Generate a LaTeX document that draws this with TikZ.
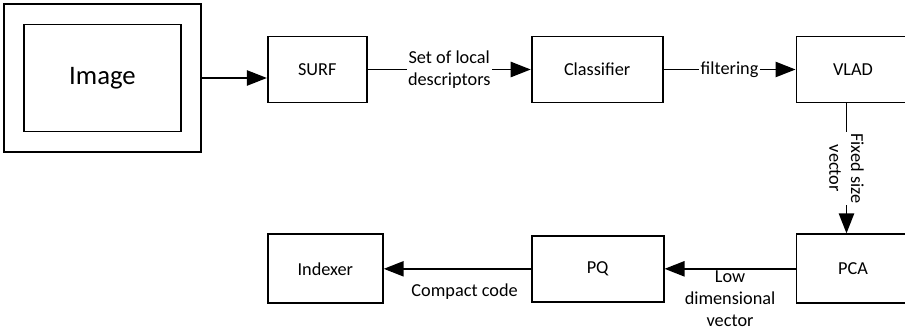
\documentclass[tikz,border=0pt]{standalone}
\usepackage{fontspec}
\setmainfont{Carlito}
\usetikzlibrary{positioning,arrows.meta}

\begin{document}
\begin{tikzpicture}[node distance = 1.6cm,
    block/.style = {draw, line width=1.3pt, minimum height=1.65cm, font=\fontsize{13}{15.5}\selectfont},
    lbl/.style = {fill=white, inner sep=1pt, align=center, font=\fontsize{13}{15.5}\selectfont},
    flow/.style = {-{Triangle[length=0.5cm,width=0.38cm]}, line width=1.3pt}]
    \useasboundingbox (0,0) rectangle (22.625,-8.325);
    \node[block, minimum width=4.925cm, minimum height=3.7cm] (frame) at (2.5625,-1.95) {};
    \node[block, minimum width=3.925cm, minimum height=2.675cm, font=\fontsize{19}{22}\selectfont] (image) at (frame) {Image};
    \node[block, minimum width=2.475cm] (surf) [right=1.625cm of frame, yshift=0.2125cm] {SURF};
    \node[block, minimum width=3.275cm] (classifier) [right=4.075cm of surf] {Classifier};
    \node[block, minimum width=2.825cm] (vlad) [right=3.3cm of classifier] {VLAD};
    \node[block, minimum width=2.825cm, minimum height=1.725cm] (pca) [below=3.25cm of vlad] {PCA};
    \node[block, minimum width=3.3cm] (pq) [left=3.275cm of pca] {PQ};
    \node[block, minimum width=2.875cm, minimum height=1.725cm] (indexer) [left=3.675cm of pq] {Indexer};
    \path[flow] (frame) edge (frame -| surf.west)
          (surf) edge node[lbl] {Set of local\\descriptors} (classifier)
          (classifier) edge node[lbl] {filtering} (vlad)
          ([xshift=-0.1625cm]vlad.south) edge node[lbl, rotate=-90] {Fixed size\\vector} ([xshift=-0.1625cm]pca.north)
          (pca) edge node[lbl, below=0pt, fill=none] {Low\\dimensional\\vector} (pq)
          (pq) edge node[lbl, below=9pt, pos=0.45, fill=none] {Compact code} (indexer);
\end{tikzpicture}
\end{document}
